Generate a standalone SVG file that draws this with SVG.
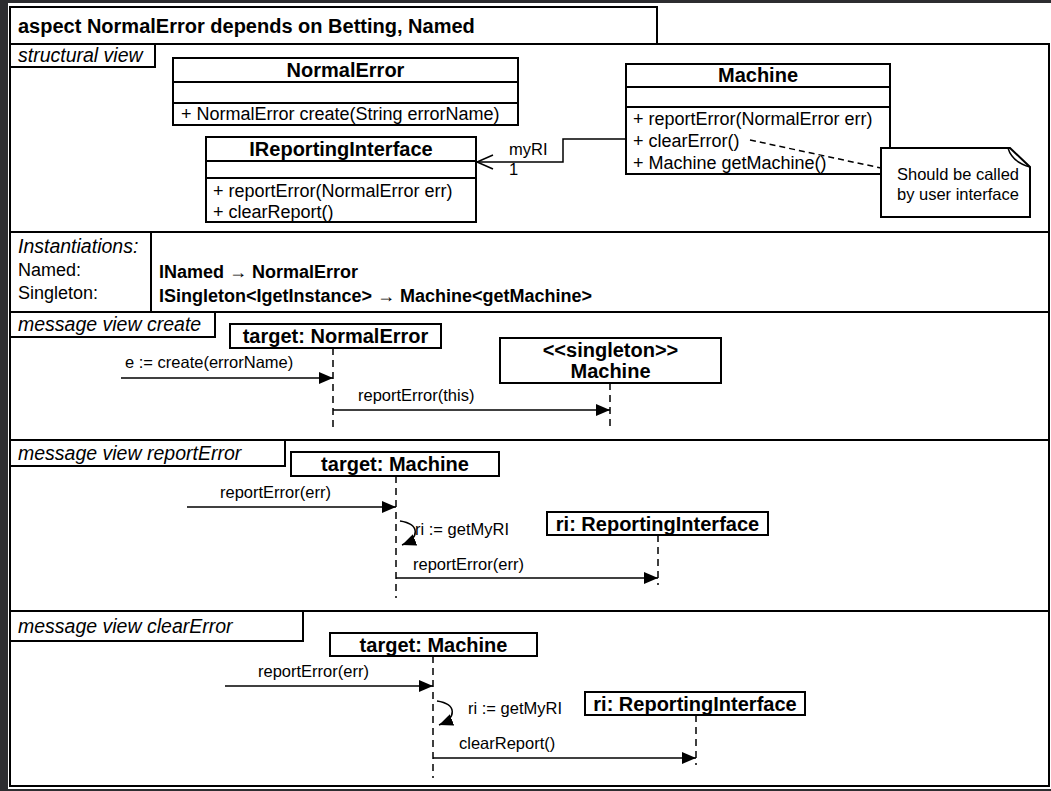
<svg xmlns="http://www.w3.org/2000/svg" width="1051" height="791" viewBox="0 0 1051 791">
<defs>
<style>
.t{font-family:"Liberation Sans",Arial,sans-serif;fill:#000}
.b{font-weight:bold}
.i{font-style:italic}
.box{fill:#fff;stroke:#000;stroke-width:2}
.ln{fill:none;stroke:#000;stroke-width:1.5}
.ll{fill:none;stroke:#000;stroke-width:1.5;stroke-dasharray:7 5}
.msg{fill:none;stroke:#000;stroke-width:1.5;marker-end:url(#fa)}
.cls{font-size:20px;font-weight:bold;text-anchor:middle}
.m{font-size:18px}
.s{font-size:16.5px}
.lbl{font-size:19.5px;font-style:italic}
.hd{font-size:20px;font-weight:bold;text-anchor:middle}
</style>
<marker id="fa" markerUnits="userSpaceOnUse" markerWidth="14" markerHeight="12" refX="14" refY="6" orient="auto">
<path d="M0,0 L14,6 L0,12 Z" fill="#000"/>
</marker>
</defs>
<rect x="0" y="0" width="1051" height="791" fill="#2d2d30"/>
<rect x="8" y="3" width="1043" height="786" fill="#fff"/>

<g id="frame">
<rect x="10" y="7" width="647" height="37" class="box"/>
<text x="18" y="33" class="t b" font-size="20">aspect NormalError depends on Betting, Named</text>
<rect x="10" y="44" width="1039" height="742" fill="none" stroke="#000" stroke-width="2"/>
<line x1="10" y1="232" x2="1049" y2="232" stroke="#000" stroke-width="2"/>
<line x1="10" y1="312" x2="1049" y2="312" stroke="#000" stroke-width="2"/>
<line x1="10" y1="440" x2="1049" y2="440" stroke="#000" stroke-width="2"/>
<line x1="10" y1="611" x2="1049" y2="611" stroke="#000" stroke-width="2"/>
</g>

<g id="label-structural">
<rect x="10" y="44" width="145" height="23" class="box"/>
<text x="18" y="62" class="t lbl">structural view</text>
</g>

<g id="class-NormalError">
<rect x="173" y="58" width="345" height="67" class="box"/>
<line x1="173" y1="82" x2="518" y2="82" stroke="#000" stroke-width="2"/>
<line x1="173" y1="103" x2="518" y2="103" stroke="#000" stroke-width="2"/>
<text x="345.5" y="77" class="t cls">NormalError</text>
<text x="181" y="120" class="t m">+ NormalError create(String errorName)</text>
</g>

<g id="class-IReportingInterface">
<rect x="206" y="137" width="270" height="85" class="box"/>
<line x1="206" y1="161" x2="476" y2="161" stroke="#000" stroke-width="2"/>
<line x1="206" y1="178" x2="476" y2="178" stroke="#000" stroke-width="2"/>
<text x="341" y="156" class="t cls">IReportingInterface</text>
<text x="213" y="197" class="t m">+ reportError(NormalError err)</text>
<text x="213" y="218" class="t m">+ clearReport()</text>
</g>

<g id="class-Machine">
<rect x="626" y="64" width="264" height="110" class="box"/>
<line x1="626" y1="87" x2="890" y2="87" stroke="#000" stroke-width="2"/>
<line x1="626" y1="107" x2="890" y2="107" stroke="#000" stroke-width="2"/>
<text x="758" y="82" class="t cls">Machine</text>
<text x="633" y="125" class="t m">+ reportError(NormalError err)</text>
<text x="633" y="147" class="t m">+ clearError()</text>
<text x="633" y="169" class="t m">+ Machine getMachine()</text>
</g>

<g id="connectors">
<path d="M626 139 H563 V162 H477" class="ln"/>
<path d="M493 155 L477 162 L493 169" class="ln"/>
<text x="509" y="155" class="t s">myRI</text>
<text x="509" y="175" class="t s">1</text>
<line x1="750" y1="140" x2="881" y2="168" stroke="#000" stroke-width="1.5" stroke-dasharray="6 4"/>
</g>

<g id="note">
<path d="M881 148 H1010 L1030 167 V217 H881 Z" class="box"/>
<path d="M1008 148 Q1012 162 1030 167" fill="none" stroke="#000" stroke-width="1.5"/>
<text x="897" y="180" class="t s">Should be called</text>
<text x="897" y="200" class="t s">by user interface</text>
</g>

<g id="instantiations">
<line x1="151" y1="232" x2="151" y2="312" stroke="#000" stroke-width="2"/>
<text x="18" y="253" class="t lbl">Instantiations:</text>
<text x="18" y="276" class="t" font-size="18">Named:</text>
<text x="18" y="299" class="t" font-size="18">Singleton:</text>
<text x="159" y="278" class="t b" font-size="18">INamed → NormalError</text>
<text x="159" y="302" class="t b" font-size="18">ISingleton&lt;IgetInstance&gt; → Machine&lt;getMachine&gt;</text>
</g>

<g id="label-create">
<rect x="10" y="312" width="205" height="25" class="box"/>
<text x="18" y="331" class="t lbl">message view create</text>
</g>
<g id="create-target">
<rect x="230" y="324" width="211" height="24" class="box"/>
<text x="335.5" y="343" class="t hd">target: NormalError</text>
<line x1="333" y1="348" x2="333" y2="428" class="ll"/>
</g>
<g id="create-machine">
<rect x="500" y="338" width="221" height="45" class="box"/>
<text x="610.5" y="357" class="t hd" font-size="18">&lt;&lt;singleton&gt;&gt;</text>
<text x="610.5" y="378" class="t hd">Machine</text>
<line x1="610" y1="383" x2="610" y2="430" class="ll"/>
</g>
<g id="create-messages">
<line x1="121" y1="378" x2="333" y2="378" class="msg"/>
<text x="125" y="368" class="t s">e := create(errorName)</text>
<line x1="333" y1="410" x2="610" y2="410" class="msg"/>
<text x="358" y="401" class="t s">reportError(this)</text>
</g>

<g id="label-reportError">
<rect x="10" y="440" width="275" height="26" class="box"/>
<text x="18" y="460" class="t lbl">message view reportError</text>
</g>
<g id="re-target">
<rect x="291" y="452" width="208" height="24" class="box"/>
<text x="395" y="471" class="t hd">target: Machine</text>
<line x1="396" y1="476" x2="396" y2="598" class="ll"/>
</g>
<g id="re-ri">
<rect x="547" y="512" width="221" height="23" class="box"/>
<text x="657.5" y="531" class="t hd">ri: ReportingInterface</text>
<line x1="658" y1="535" x2="658" y2="585" class="ll"/>
</g>
<g id="re-messages">
<line x1="187" y1="507" x2="396" y2="507" class="msg"/>
<text x="220" y="498" class="t s">reportError(err)</text>
<path d="M400 521 C420 524 420 538 402 545" class="msg"/>
<text x="415" y="535" class="t s">ri := getMyRI</text>
<line x1="396" y1="578" x2="658" y2="578" class="msg"/>
<text x="413" y="570" class="t s">reportError(err)</text>
</g>

<g id="label-clearError">
<rect x="10" y="611" width="293" height="30" class="box"/>
<text x="18" y="633" class="t lbl">message view clearError</text>
</g>
<g id="ce-target">
<rect x="330" y="633" width="207" height="23" class="box"/>
<text x="433.5" y="652" class="t hd">target: Machine</text>
<line x1="433" y1="656" x2="433" y2="778" class="ll"/>
</g>
<g id="ce-ri">
<rect x="585" y="692" width="220" height="23" class="box"/>
<text x="695" y="711" class="t hd">ri: ReportingInterface</text>
<line x1="696" y1="715" x2="696" y2="765" class="ll"/>
</g>
<g id="ce-messages">
<line x1="225" y1="686" x2="433" y2="686" class="msg"/>
<text x="258" y="677" class="t s">reportError(err)</text>
<path d="M437 701 C457 704 457 718 439 725" class="msg"/>
<text x="468" y="714" class="t s">ri := getMyRI</text>
<line x1="433" y1="758" x2="696" y2="758" class="msg"/>
<text x="459" y="749" class="t s">clearReport()</text>
</g>
</svg>
